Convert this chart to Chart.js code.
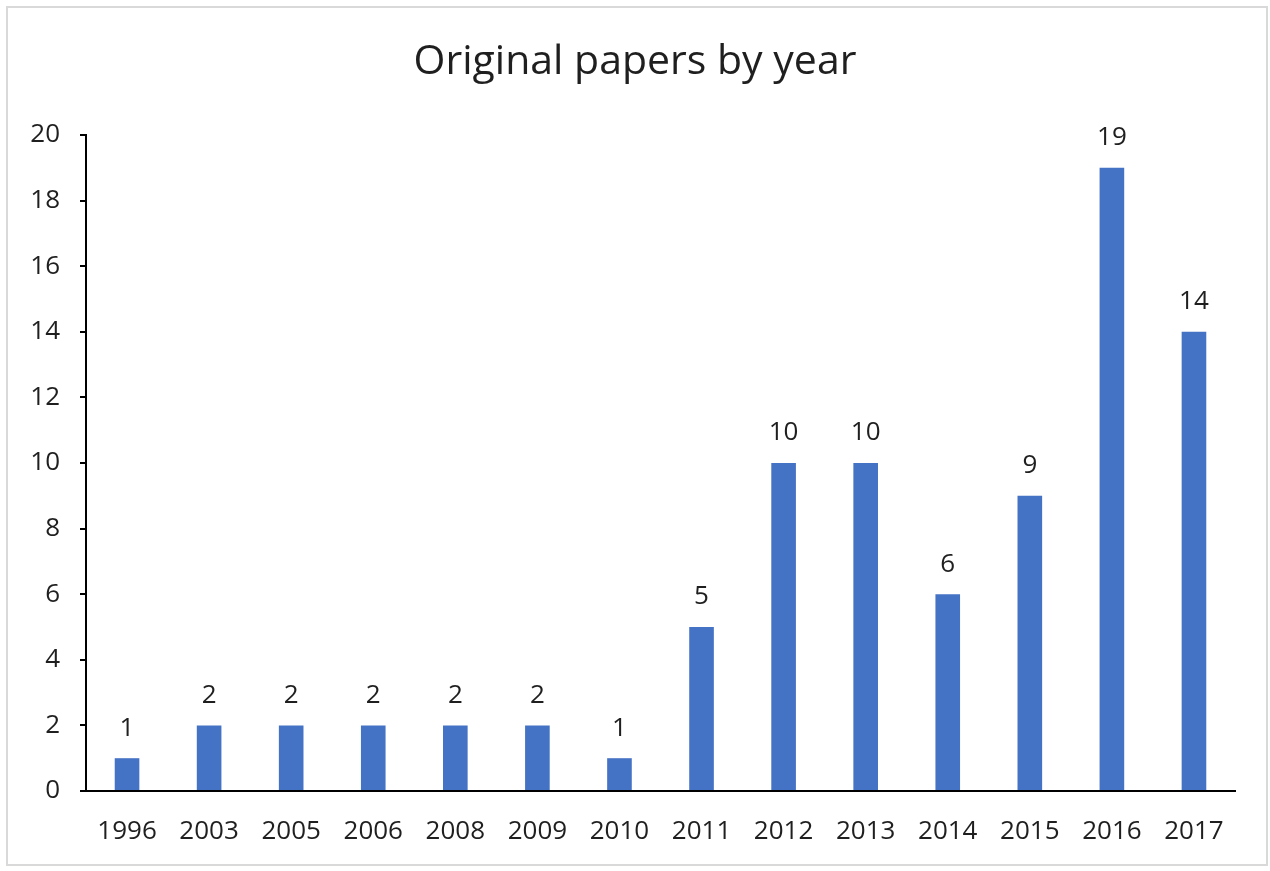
<!DOCTYPE html>
<html>
<head>
<meta charset="utf-8">
<script src="https://cdn.jsdelivr.net/npm/chart.js@4"></script>
<style>
  html, body { margin: 0; padding: 0; background: #fff; }
  #wrap { position: relative; width: 1270px; height: 871px; }
  #frame { position: absolute; left: 6px; top: 6px; width: 1262px; height: 860px; border: 2px solid #d9d9d9; box-sizing: border-box; pointer-events: none; }
  canvas { position: absolute; left: 0; top: 0; }
</style>
</head>
<body>
<div id="wrap">
  <canvas id="chart" width="1270" height="871"></canvas>
  <div id="frame"></div>
</div>
<script>
// データ
const years = ['1996', '2003', '2005', '2006', '2008', '2009', '2010', '2011', '2012', '2013', '2014', '2015', '2016', '2017'];
const papers = [1, 2, 2, 2, 2, 2, 1, 5, 10, 10, 6, 9, 19, 14];
const titleText = 'Original papers by year';

const FONT = '"Open Sans", "Noto Sans", sans-serif';
const TEXT = '#1f1f1f';

// 棒の上に値を表示 + タイトル（ページ中央に）
const valueLabels = {
  id: 'valueLabels',
  afterDatasetsDraw(chart) {
    const ctx = chart.ctx;
    const meta = chart.getDatasetMeta(0);
    ctx.save();
    ctx.fillStyle = TEXT;
    ctx.font = '26px ' + FONT;
    ctx.textAlign = 'center';
    ctx.textBaseline = 'middle';
    meta.data.forEach((bar, i) => {
      ctx.fillText(papers[i], bar.x, bar.y - 30);
    });
    ctx.font = '41px ' + FONT;
    ctx.fillText(titleText, chart.width / 2, 62);
    ctx.restore();
  }
};

const ctx = document.getElementById('chart').getContext('2d');
new Chart(ctx, {
  type: 'bar',
  data: {
    labels: years,
    datasets: [{
      data: papers,
      backgroundColor: '#4472C4',
      barPercentage: 0.3,
      categoryPercentage: 1.0
    }]
  },
  options: {
    responsive: false,
    animation: false,
    layout: { padding: { left: 0, right: 35, top: 135, bottom: 0 } },
    plugins: {
      legend: { display: false },
      tooltip: { enabled: false },
      title: { display: false }
    },
    scales: {
      x: {
        grid: { display: false, drawTicks: false },
        border: { display: true, color: '#000', width: 2 },
        ticks: { color: TEXT, font: { family: FONT, size: 26 }, padding: 25, maxRotation: 0 },
        afterFit(scale) { scale.height = 80; }
      },
      y: {
        min: 0,
        max: 20,
        grid: { drawOnChartArea: false, drawTicks: true, tickLength: 6, color: '#000', lineWidth: 2 },
        border: { display: true, color: '#000', width: 2 },
        ticks: { stepSize: 2, color: TEXT, font: { family: FONT, size: 26 }, padding: 20 },
        afterFit(scale) { scale.width = 86; }
      }
    }
  },
  plugins: [valueLabels]
});
</script>
</body>
</html>
